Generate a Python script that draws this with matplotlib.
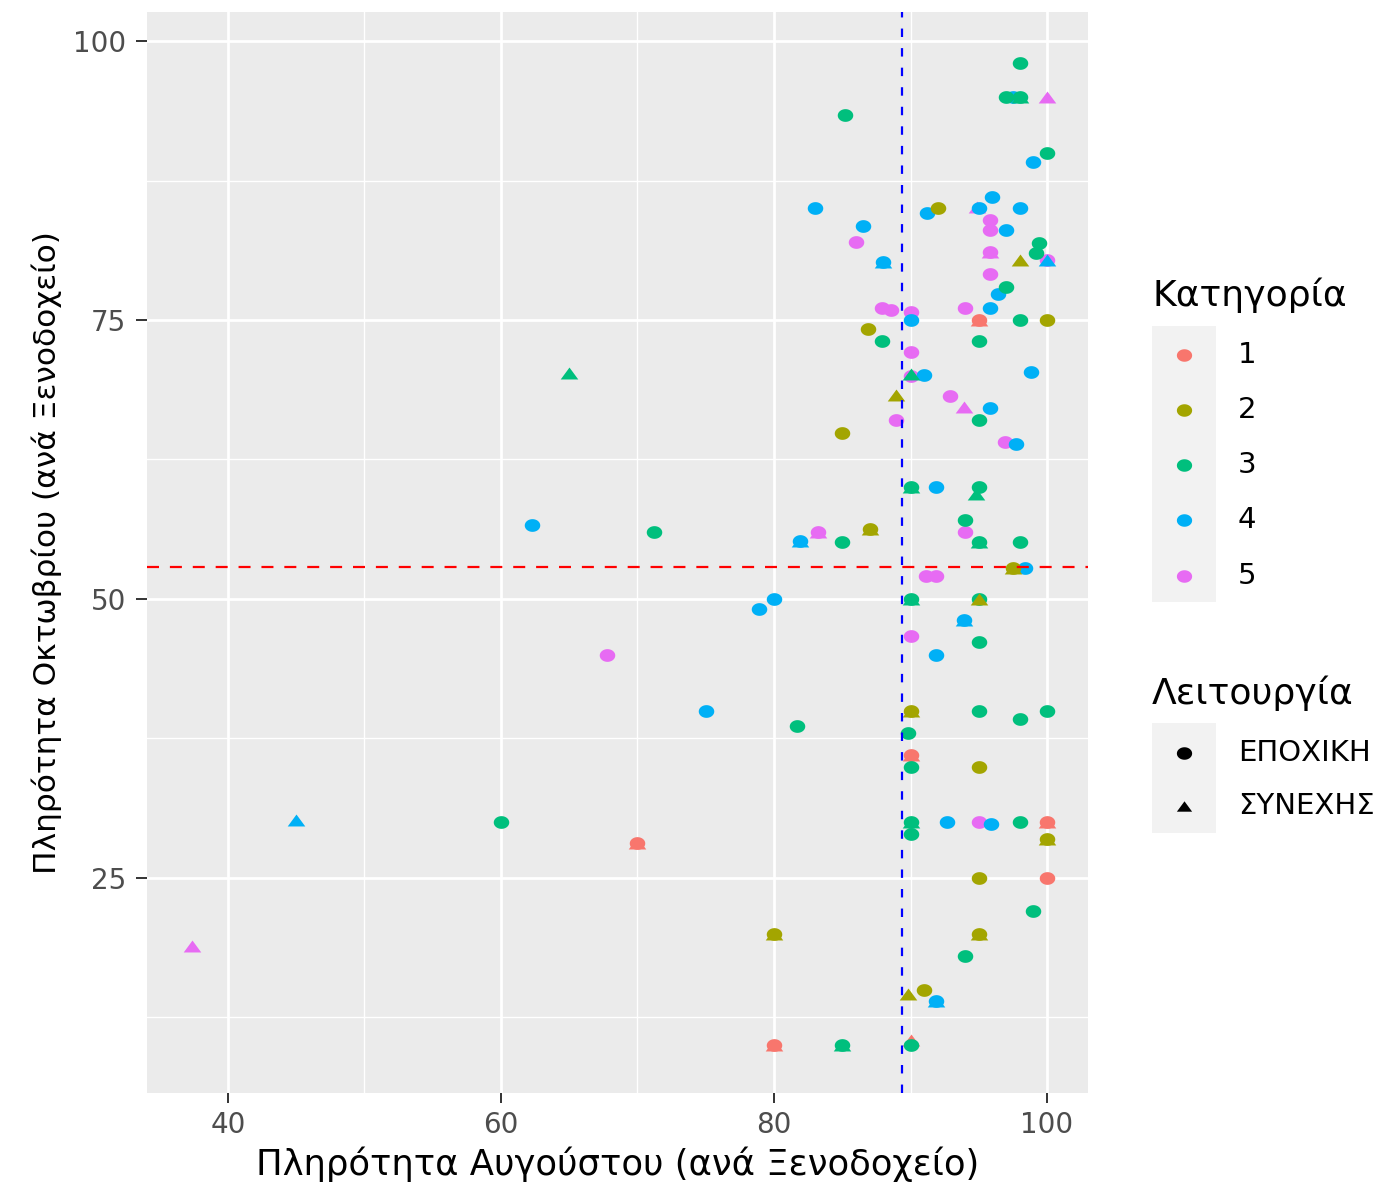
import matplotlib
matplotlib.use("Agg")
import matplotlib.pyplot as plt
from matplotlib.lines import Line2D
from matplotlib.patches import Rectangle
from matplotlib.path import Path
import numpy as np

# ---------------- data ----------------
categories = ["1", "2", "3", "4", "5"]
modes = ["ΕΠΟΧΙΚΗ", "ΣΥΝΕΧΗΣ"]
palette = ["#F8766D", "#A3A500", "#00BF7D", "#00B0F6", "#E76BF3"]

# category 1
aug_1  = [95, 95, 90, 90, 100, 100, 100, 70, 70, 80, 80, 90]
oct_1  = [75, 75, 36, 36, 30, 30, 25, 28.1, 28.1, 10, 10, 10.5]
mode_1 = [0, 1, 0, 1, 0, 1, 0, 0, 1, 0, 1, 1]

# category 2
aug_2  = [92, 98, 100, 86.9, 88.9, 85, 87, 87, 97.5, 97.5, 95, 90, 90, 95, 100, 100, 95, 80, 80, 95, 95, 89.8, 91]
oct_2  = [85, 80.4, 75, 74.2, 68.3, 64.9, 56.3, 56.3, 52.8, 52.8, 50, 40, 40, 34.9, 28.5, 28.5, 25, 20, 20, 20, 20, 14.6, 15]
mode_2 = [0, 1, 0, 0, 1, 0, 0, 1, 0, 1, 1, 0, 1, 0, 0, 1, 0, 0, 1, 0, 1, 1, 0]

# category 3
aug_3  = [98, 97, 98, 98, 85.2, 100, 99.4, 99.2, 97, 98, 87.9, 95, 90, 95, 90, 90, 95, 94.8, 94, 85,
          95, 95, 98, 71.2, 65, 90, 90, 95, 95, 95, 100, 98, 81.7, 89.8, 90, 90, 90, 90, 98, 60,
          99, 94, 85, 85, 90]
oct_3  = [98, 95, 95, 95, 93.4, 90, 81.9, 81, 78, 75, 73.1, 73.1, 70.2, 66, 60, 60, 60, 59.4, 57.1, 55.1,
          55.1, 55.1, 55.1, 56, 70.25, 50, 50, 50, 46.1, 40, 40, 39.2, 38.6, 38, 34.9, 30, 30, 28.9, 30, 30,
          22, 18, 10, 10, 10]
mode_3 = [0, 0, 0, 1, 0, 0, 0, 0, 0, 0, 0, 0, 1, 0, 0, 1, 0, 1, 0, 0,
          0, 1, 0, 0, 1, 0, 1, 0, 0, 0, 0, 0, 0, 0, 0, 0, 1, 0, 0, 0,
          0, 0, 0, 1, 0]

# category 4
aug_4  = [97.5, 99, 83, 91.2, 95, 96, 98, 97, 86.5, 100, 88, 88, 96.4, 95.8, 90, 91, 98.8, 95.8, 97.7, 91.9,
          81.9, 81.9, 98.4, 93.9, 93.9, 91.9, 62.3, 75, 78.9, 80, 92.7, 95.9, 91.9, 91.9, 45]
oct_4  = [95, 89.2, 85, 84.6, 85, 86, 85, 83.1, 83.4, 80.4, 80.2, 80.2, 77.3, 76.1, 75, 70.1, 70.3, 67.1, 63.9, 60,
          55.2, 55.2, 52.8, 48.1, 48.1, 45, 56.6, 40, 49.1, 50, 30, 29.8, 14, 14, 30.2]
mode_4 = [0, 0, 0, 0, 0, 0, 0, 0, 0, 1, 0, 1, 0, 0, 0, 0, 0, 0, 0, 0,
          0, 1, 0, 0, 1, 0, 0, 0, 0, 0, 0, 0, 0, 1, 1]

# category 5
aug_5  = [100, 94.9, 95.8, 95.8, 86, 95.8, 95.8, 100, 95.8, 94, 87.9, 88.6, 90, 90, 90, 92.9, 93.9, 88.9, 96.9, 94,
          83.2, 83.2, 91.1, 91.9, 90, 95, 67.8, 37.4]
oct_5  = [95, 85.1, 84, 83.1, 82, 81.1, 81.1, 80.4, 79.1, 76.1, 76.1, 75.9, 75.7, 72.1, 70, 68.2, 67.2, 66, 64.1, 56,
          56, 56, 52.1, 52.1, 46.7, 30, 45, 18.9]
mode_5 = [1, 1, 0, 0, 0, 0, 1, 0, 0, 0, 0, 0, 0, 0, 0, 0, 1, 0, 0, 0,
          0, 1, 0, 0, 0, 0, 0, 1]

ref_oct = 52.87   # horizontal reference (red)
ref_aug = 89.38   # vertical reference (blue)

x_ticks = [40, 60, 80, 100]
y_ticks = [25, 50, 75, 100]

series = {
    "1": (aug_1, oct_1, mode_1),
    "2": (aug_2, oct_2, mode_2),
    "3": (aug_3, oct_3, mode_3),
    "4": (aug_4, oct_4, mode_4),
    "5": (aug_5, oct_5, mode_5),
}

# slightly wide markers (the reference is rendered horizontally stretched)
_t = np.linspace(0, 2 * np.pi, 40)
ELLIPSE = Path(np.column_stack([np.cos(_t), 0.82 * np.sin(_t)]), closed=True)
TRIANGLE = Path([(0, 0.68), (-1, -0.68), (1, -0.68), (0, 0.68)], closed=True)

# ---------------- figure ----------------
W, H = 1399, 1186
plt.rcParams['font.family'] = ['DejaVu Sans']
fig = plt.figure(figsize=(W / 100, H / 100), dpi=100)
fig.patch.set_facecolor("white")

L, R, T, B = 147, 1088, 12, 1093
ax = fig.add_axes([L / W, 1 - B / H, (R - L) / W, (B - T) / H])
ax.set_facecolor("#EBEBEB")
for s in ax.spines.values():
    s.set_visible(False)

ax.set_xlim(34.07, 103.0)
ax.set_ylim(5.73, 102.6)
ax.set_xticks(x_ticks)
ax.set_yticks(y_ticks)
ax.set_xticks([50, 70, 90], minor=True)
ax.set_yticks([12.5, 37.5, 62.5, 87.5], minor=True)
ax.grid(True, which="major", color="white", linewidth=2.0, zorder=0)
ax.grid(True, which="minor", color="white", linewidth=1.0, zorder=0)
ax.set_axisbelow(True)
ax.tick_params(axis="both", which="major", width=1.4, color="#333333",
               labelsize=20, labelcolor="#4D4D4D")
ax.tick_params(axis="x", which="major", length=7, pad=6)
ax.tick_params(axis="y", which="major", length=8, pad=7)
ax.tick_params(axis="both", which="minor", length=0)

order = ["5", "4", "1", "3", "2"]
z = 3
for cat in order:
    xs, ys, ms = series[cat]
    xs = np.array(xs); ys = np.array(ys); ms = np.array(ms)
    col = palette[categories.index(cat)]
    ax.scatter(xs[ms == 0], ys[ms == 0], s=125, marker=ELLIPSE, color=col, linewidths=0, zorder=z)
    ax.scatter(xs[ms == 1], ys[ms == 1], s=160, marker=TRIANGLE, color=col, linewidths=0, zorder=z + 0.5)
    z += 1

ax.axhline(ref_oct, color="#FF0000", linestyle=(0, (5.4, 4.9)), linewidth=1.6, zorder=10)
ax.axvline(ref_aug, color="#0000FF", linestyle=(0, (3.8, 5.0)), linewidth=1.6, zorder=10)

ax.set_xlabel("Πληρότητα Αυγούστου (ανά Ξενοδοχείο)", fontsize=25.5, color="black", labelpad=5)
ax.set_ylabel("Πληρότητα Οκτωβρίου (ανά Ξενοδοχείο)", fontsize=22.5, color="black", labelpad=8)

# ---------------- legends ----------------
def fx(x):
    return x / W

def fy(y):
    return 1 - y / H

# Κατηγορία
fig.text(fx(1152), fy(295), "Κατηγορία", fontsize=26, ha="left", va="center")
fig.add_artist(Rectangle((fx(1152), fy(602)), fx(1216) - fx(1152), fy(326) - fy(602),
                         transform=fig.transFigure, facecolor="#F2F2F2", edgecolor="none"))
cat_y = [355, 410, 465, 520, 576]
for cat, col, yy in zip(categories, palette, cat_y):
    fig.add_artist(Line2D([fx(1184)], [fy(yy)], marker=ELLIPSE, markersize=11, color=col,
                          markeredgewidth=0, linestyle="none", transform=fig.transFigure))
    fig.text(fx(1238), fy(yy), cat, fontsize=21, ha="left", va="center")

# Λειτουργία
fig.text(fx(1152), fy(693), "Λειτουργία", fontsize=26, ha="left", va="center")
fig.add_artist(Rectangle((fx(1152), fy(833)), fx(1216) - fx(1152), fy(723) - fy(833),
                         transform=fig.transFigure, facecolor="#F2F2F2", edgecolor="none"))
mode_y = [753, 806]
for lab, mk, yy in zip(modes, [ELLIPSE, TRIANGLE], mode_y):
    fig.add_artist(Line2D([fx(1184)], [fy(yy)], marker=mk, markersize=11, color="black",
                          markeredgewidth=0, linestyle="none", transform=fig.transFigure))
    fig.text(fx(1238), fy(yy), lab, fontsize=21, ha="left", va="center")

fig.savefig("out.png", dpi=100)
